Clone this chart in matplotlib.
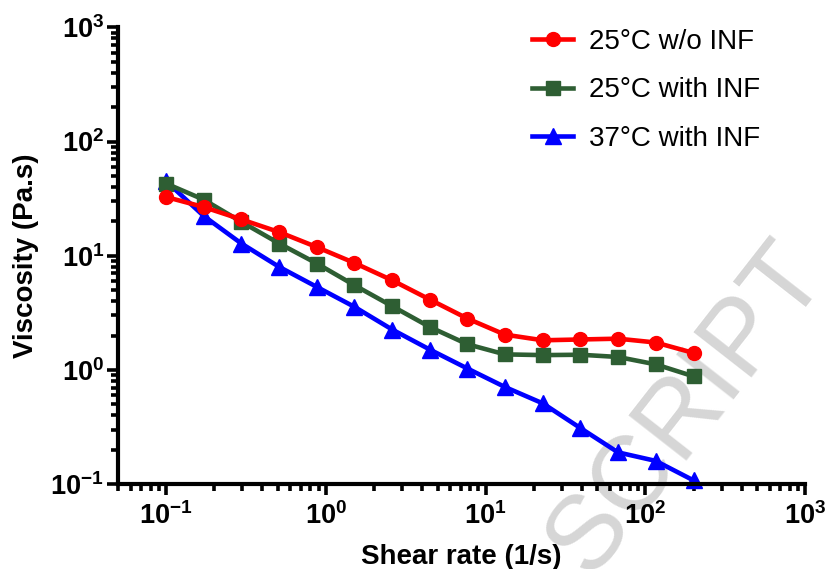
import numpy as np
import matplotlib
matplotlib.use('Agg')
import matplotlib.pyplot as plt
from matplotlib.ticker import LogLocator, FuncFormatter, NullFormatter

plt.rcParams['font.family'] = ['Liberation Sans', 'DejaVu Sans']
plt.rcParams['mathtext.fontset'] = 'custom'
plt.rcParams['mathtext.rm'] = 'Liberation Sans:bold'
plt.rcParams['mathtext.bf'] = 'Liberation Sans:bold'

# shear rate sweep (1/s)
shear_rate = [0.1, 0.172, 0.296, 0.511, 0.879, 1.51, 2.6, 4.47, 7.69, 13.2, 22.8, 39.2, 67.4, 116, 200]

# viscosity (Pa.s)
visc_25_no_inf = [32.7, 26.7, 20.8, 16.1, 11.9, 8.65, 6.1, 4.14, 2.82, 2.04, 1.82, 1.85, 1.88, 1.74, 1.41]
visc_25_inf = [42.9, 31.0, 19.8, 12.8, 8.55, 5.52, 3.62, 2.38, 1.68, 1.37, 1.35, 1.36, 1.30, 1.12, 0.88]
visc_37_inf = [45.0, 22.3, 12.8, 7.98, 5.33, 3.57, 2.26, 1.51, 1.03, 0.71, 0.51, 0.31, 0.19, 0.16, 0.108]

labels = ['25°C w/o INF', '25°C with INF', '37°C with INF']
colors = ['#ff0000', '#2e5e33', '#0000ff']
markers = ['o', 's', '^']

fig = plt.figure(figsize=(8.25, 5.69), dpi=100)
ax = fig.add_axes([0.143, 0.149, 0.833, 0.803])
ax.patch.set_visible(False)

lw = 3.3
l3, = ax.plot(shear_rate, visc_37_inf, color=colors[2], marker=markers[2], ms=11,
              lw=lw, zorder=2, clip_on=False)
l2, = ax.plot(shear_rate, visc_25_inf, color=colors[1], marker=markers[1], ms=9.5,
              lw=lw, zorder=3, clip_on=False)
l1, = ax.plot(shear_rate, visc_25_no_inf, color=colors[0], marker=markers[0], ms=10,
              lw=lw, zorder=4, clip_on=False)

ax.set_xscale('log')
ax.set_yscale('log')
ax.set_xlim(0.05, 1000)
ax.set_ylim(0.1, 1000)

for side in ['top', 'right']:
    ax.spines[side].set_visible(False)
for side in ['left', 'bottom']:
    ax.spines[side].set_linewidth(3)
    ax.spines[side].set_zorder(5)

fmt = FuncFormatter(lambda v, _: r'$\mathbf{10^{%d}}$' % int(round(np.log10(v))))
for axis in [ax.xaxis, ax.yaxis]:
    axis.set_major_locator(LogLocator(base=10, numticks=10))
    axis.set_minor_locator(LogLocator(base=10, subs=np.arange(2, 10), numticks=20))
    axis.set_major_formatter(fmt)
    axis.set_minor_formatter(NullFormatter())

ax.tick_params(which='major', length=8, width=2.6, labelsize=19.5, direction='out')
ax.tick_params(which='minor', length=5, width=2.6, direction='out')
ax.tick_params(axis='x', which='major', pad=5)
ax.tick_params(axis='y', which='major', pad=2)

ax.set_xlabel('Shear rate (1/s)', fontsize=20, fontweight='bold', labelpad=10)
ax.set_ylabel('Viscosity (Pa.s)', fontsize=20, fontweight='bold', labelpad=8)

ax.legend([l1, l2, l3], labels, loc='upper left', bbox_to_anchor=(0.603, 0.996),
          frameon=False, fontsize=20, handlelength=1.45, handletextpad=0.6,
          labelspacing=0.8, borderpad=0, borderaxespad=0)

fig.text(0.832, 0.282, 'SCRIPT', fontsize=76, color='#d6d6d6', rotation=52,
         ha='center', va='center', zorder=-1)

fig.savefig('out.png', dpi=100)
